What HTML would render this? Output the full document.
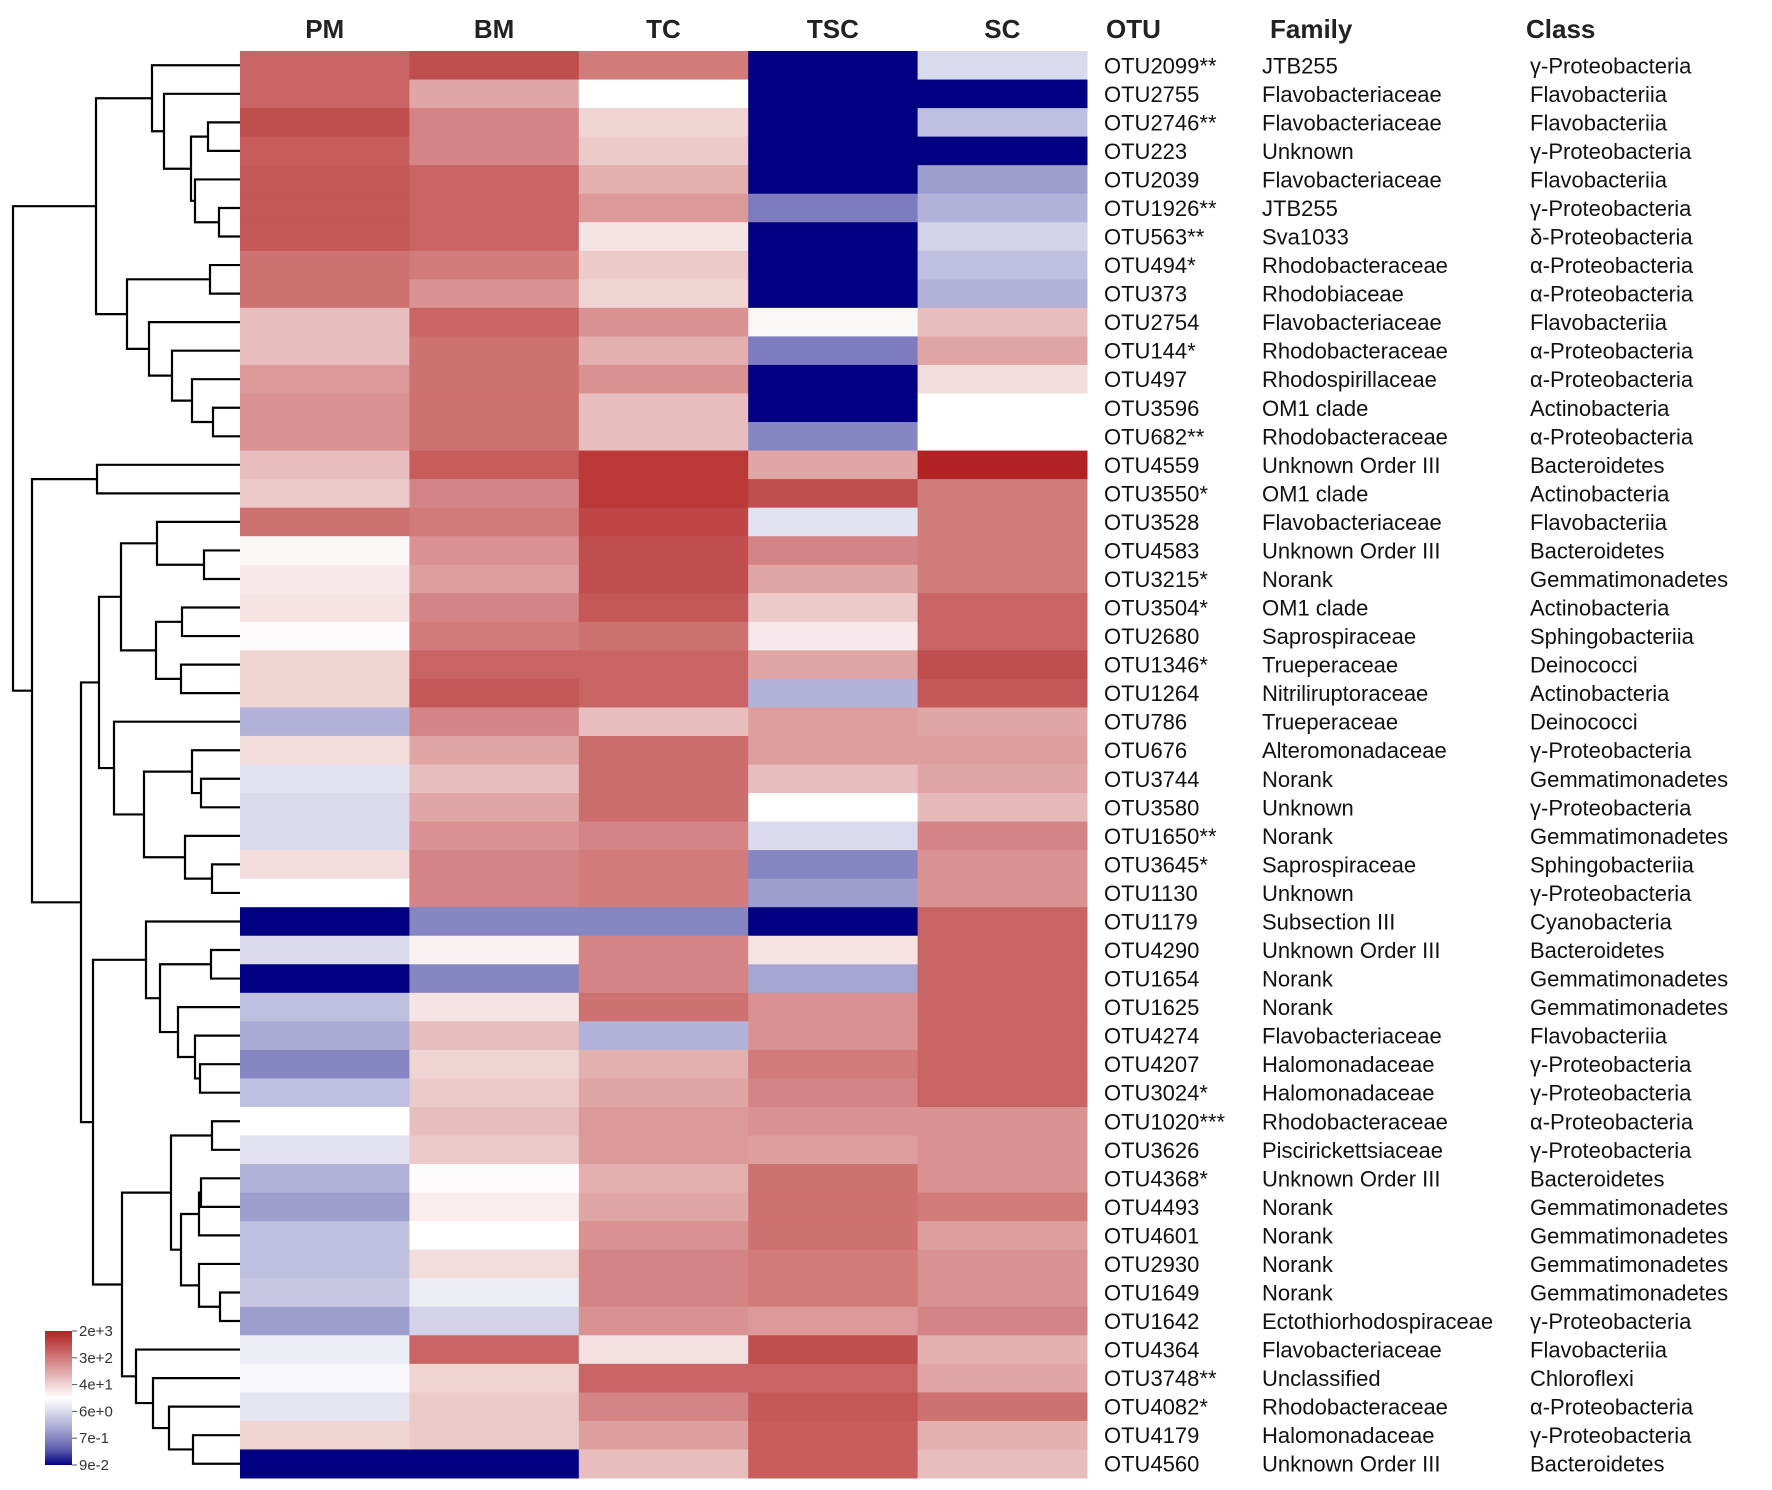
<!DOCTYPE html>
<html><head><meta charset="utf-8"><style>
html,body{margin:0;padding:0;background:#fff;}
svg{display:block;font-family:"Liberation Sans",sans-serif;}
</style></head><body>
<svg id="chart" width="1772" height="1490" viewBox="0 0 1772 1490"></svg>
<script>
const samples = ["PM","BM","TC","TSC","SC"];
const otus = ["OTU2099**","OTU2755","OTU2746**","OTU223","OTU2039","OTU1926**","OTU563**","OTU494*","OTU373","OTU2754","OTU144*","OTU497","OTU3596","OTU682**","OTU4559","OTU3550*","OTU3528","OTU4583","OTU3215*","OTU3504*","OTU2680","OTU1346*","OTU1264","OTU786","OTU676","OTU3744","OTU3580","OTU1650**","OTU3645*","OTU1130","OTU1179","OTU4290","OTU1654","OTU1625","OTU4274","OTU4207","OTU3024*","OTU1020***","OTU3626","OTU4368*","OTU4493","OTU4601","OTU2930","OTU1649","OTU1642","OTU4364","OTU3748**","OTU4082*","OTU4179","OTU4560"];
const families = ["JTB255","Flavobacteriaceae","Flavobacteriaceae","Unknown","Flavobacteriaceae","JTB255","Sva1033","Rhodobacteraceae","Rhodobiaceae","Flavobacteriaceae","Rhodobacteraceae","Rhodospirillaceae","OM1 clade","Rhodobacteraceae","Unknown Order III","OM1 clade","Flavobacteriaceae","Unknown Order III","Norank","OM1 clade","Saprospiraceae","Trueperaceae","Nitriliruptoraceae","Trueperaceae","Alteromonadaceae","Norank","Unknown","Norank","Saprospiraceae","Unknown","Subsection III","Unknown Order III","Norank","Norank","Flavobacteriaceae","Halomonadaceae","Halomonadaceae","Rhodobacteraceae","Piscirickettsiaceae","Unknown Order III","Norank","Norank","Norank","Norank","Ectothiorhodospiraceae","Flavobacteriaceae","Unclassified","Rhodobacteraceae","Halomonadaceae","Unknown Order III"];
const classes = ["γ-Proteobacteria","Flavobacteriia","Flavobacteriia","γ-Proteobacteria","Flavobacteriia","γ-Proteobacteria","δ-Proteobacteria","α-Proteobacteria","α-Proteobacteria","Flavobacteriia","α-Proteobacteria","α-Proteobacteria","Actinobacteria","α-Proteobacteria","Bacteroidetes","Actinobacteria","Flavobacteriia","Bacteroidetes","Gemmatimonadetes","Actinobacteria","Sphingobacteriia","Deinococci","Actinobacteria","Deinococci","γ-Proteobacteria","Gemmatimonadetes","γ-Proteobacteria","Gemmatimonadetes","Sphingobacteriia","γ-Proteobacteria","Cyanobacteria","Bacteroidetes","Gemmatimonadetes","Gemmatimonadetes","Flavobacteriia","γ-Proteobacteria","γ-Proteobacteria","α-Proteobacteria","γ-Proteobacteria","Bacteroidetes","Gemmatimonadetes","Gemmatimonadetes","Gemmatimonadetes","Gemmatimonadetes","γ-Proteobacteria","Flavobacteriia","Chloroflexi","α-Proteobacteria","γ-Proteobacteria","Bacteroidetes"];
// log10 abundance per sample column
const logPM  = [2.65,2.65,2.87,2.73,2.78,2.78,2.78,2.52,2.52,1.78,1.78,2.13,2.21,2.21,1.78,1.65,2.52,1.21,1.34,1.39,1.17,1.56,1.56,0.26,1.47,0.78,0.69,0.69,1.47,1.13,-1.05,0.69,-1.05,0.39,0.17,-0.18,0.39,1.13,0.78,0.26,0.04,0.39,0.39,0.48,0.04,0.91,1.04,0.82,1.56,-1.05];
const logBM  = [2.87,2.0,2.34,2.34,2.65,2.65,2.65,2.43,2.21,2.65,2.52,2.52,2.52,2.52,2.73,2.34,2.43,2.21,2.08,2.34,2.43,2.65,2.78,2.34,2.0,1.78,2.0,2.21,2.34,2.34,-0.18,1.26,-0.18,1.39,1.78,1.56,1.65,1.78,1.65,1.17,1.3,1.13,1.47,0.91,0.6,2.65,1.56,1.65,1.65,-1.05];
const logTC  = [2.43,1.13,1.56,1.65,1.91,2.13,1.39,1.65,1.56,2.21,1.91,2.21,1.78,1.78,3.08,3.08,2.95,2.87,2.87,2.78,2.52,2.65,2.65,1.78,2.56,2.56,2.56,2.34,2.43,2.43,-0.18,2.34,2.34,2.52,0.26,1.91,2.0,2.13,2.13,1.91,2.0,2.21,2.34,2.34,2.21,1.43,2.65,2.34,2.08,1.78];
const logTSC = [-1.05,-1.05,-1.05,-1.05,-1.05,-0.27,-1.05,-1.05,-1.05,1.21,-0.27,-1.05,-1.05,-0.18,2.0,2.87,0.78,2.34,2.0,1.65,1.34,2.0,0.26,2.08,2.08,1.78,1.13,0.69,-0.18,0.04,-1.05,1.39,0.12,2.21,2.21,2.43,2.34,2.21,2.08,2.52,2.52,2.52,2.43,2.43,2.13,2.87,2.65,2.78,2.73,2.73];
const logSC  = [0.69,-1.05,0.39,-1.05,0.04,0.26,0.6,0.39,0.26,1.78,2.0,1.47,1.13,1.13,3.3,2.43,2.43,2.43,2.43,2.65,2.65,2.87,2.78,2.0,2.08,2.0,1.82,2.34,2.21,2.21,2.65,2.65,2.65,2.65,2.65,2.65,2.65,2.21,2.21,2.21,2.43,2.08,2.21,2.21,2.34,1.91,2.0,2.52,1.91,1.78];
const legendTicks = ["2e+3","3e+2","4e+1","6e+0","7e-1","9e-2"];
// dendrogram: [mergeX, left, right]; leaves are row indices
const tree = [13,
  [96,
    [152, 0, [164, 1, [191, [208, 2, 3], [195, 4, [219, 5, 6]]]]],
    [127, [210, 7, 8], [149, 9, [172, 10, [192, 11, [213, 12, 13]]]]]],
  [32, [97, 14, 15],
    [81,
      [99,
        [121, [157, 16, [204, 17, 18]], [156, [182, 19, 20], [181, 21, 22]]],
        [114, 23, [144, [192, 24, [201, 25, 26]], [185, 27, [212, 28, 29]]]]],
      [93,
        [146, 30, [160, [211, 31, 32], [178, 33, [195, 34, [200, 35, 36]]]]],
        [122,
          [171, [212, 37, 38], [181, [199, [201, 39, 40], 41], [199, 42, [220, 43, 44]]]],
          [136, 45, [153, 46, [169, 47, [193, 48, 49]]]]]]]]];

const NS = "http://www.w3.org/2000/svg";
const svg = document.getElementById("chart");
function mk(tag, attrs, parent) { const e = document.createElementNS(NS, tag); for (const k in attrs) e.setAttribute(k, attrs[k]); (parent || svg).appendChild(e); return e; }
const X0 = 240, X1 = 1087, Y0 = 51, Y1 = 1478;
const colW = (X1 - X0) / samples.length, rowH = (Y1 - Y0) / otus.length;
const xCol = i => X0 + i * colW;
const yRow = i => Y0 + i * rowH;
const LMIN = Math.log10(0.09), LMAX = Math.log10(2000);
function color(lv) {
  let t = Math.max(0, Math.min(1, (lv - LMIN) / (LMAX - LMIN)));
  let r, g, b;
  if (t < 0.5) { const u = Math.pow(t / 0.5, 0.7); r = 255 * u; g = 255 * u; b = 128 + 127 * u; }
  else { const u = (t - 0.5) / 0.5; r = 255 + (178 - 255) * u; g = 255 + (34 - 255) * u; b = 255 + (34 - 255) * u; }
  return `rgb(${Math.round(r)},${Math.round(g)},${Math.round(b)})`;
}
const cols = [logPM, logBM, logTC, logTSC, logSC];
const cells = mk("g", {});


cols.forEach((arr, c) => arr.forEach((v, r) => {
  const rc = mk("rect", { x: xCol(c), y: yRow(r), width: colW + 0.5, height: rowH + 0.5, fill: color(v) }, cells);
  
  
}));
samples.forEach((s, i) => {
  const t = mk("text", { x: xCol(i) + colW / 2, y: 38, "text-anchor": "middle", "font-size": 26, "font-weight": "bold", fill: "#222" });
  t.textContent = s;
  
  
});
[["OTU", 1106], ["Family", 1270], ["Class", 1526]].forEach(([s, x]) => {
  const t = mk("text", { x: x, y: 38, "font-size": 26, "font-weight": "bold", fill: "#222" });
  t.textContent = s;
  
  
});
otus.forEach((o, i) => {
  const y = yRow(i) + rowH / 2 + 8;
  const a = mk("text", { x: 1104, y: y, "font-size": 22, fill: "#111" }); a.textContent = o;
  
  
  const b = mk("text", { x: 1262, y: y, "font-size": 22, fill: "#111" }); b.textContent = families[i];
  
  
  const c = mk("text", { x: 1530, y: y, "font-size": 22, fill: "#111" }); c.textContent = classes[i];
  
  
});
// dendrogram
const dg = mk("g", { stroke: "#000", "stroke-width": 2.2, fill: "none" });


function draw(node) {
  if (typeof node === "number") return { x: X0, y: yRow(node) + rowH / 2 };
  const [h, l, r] = node;
  const a = draw(l), b = draw(r);
  const p = mk("path", { d: `M${a.x},${a.y}H${h}V${b.y}H${b.x}` }, dg);
  
  
  return { x: h, y: (a.y + b.y) / 2 };
}
draw(tree);
// legend
const defs = mk("defs", {});
const lg = mk("linearGradient", { id: "lg", x1: 0, y1: 0, x2: 0, y2: 1 }, defs);
for (let k = 0; k <= 10; k++) { const lv = LMAX - (LMAX - LMIN) * k / 10; mk("stop", { offset: k / 10, "stop-color": color(lv) }, lg); }
const leg = mk("g", {});


const LY0 = 1331, LY1 = 1465;
const bar = mk("rect", { x: 45, y: LY0, width: 27, height: LY1 - LY0, fill: "url(#lg)" }, leg);


legendTicks.forEach((s, i) => {
  const y = LY0 + i * (LY1 - LY0) / (legendTicks.length - 1);
  mk("line", { x1: 72, x2: 77, y1: y, y2: y, stroke: "#555", "stroke-width": 1 }, leg);
  const t = mk("text", { x: 79, y: y + 5, "font-size": 15, fill: "#333" }, leg); t.textContent = s;
  
  
});
</script>
</body></html>
